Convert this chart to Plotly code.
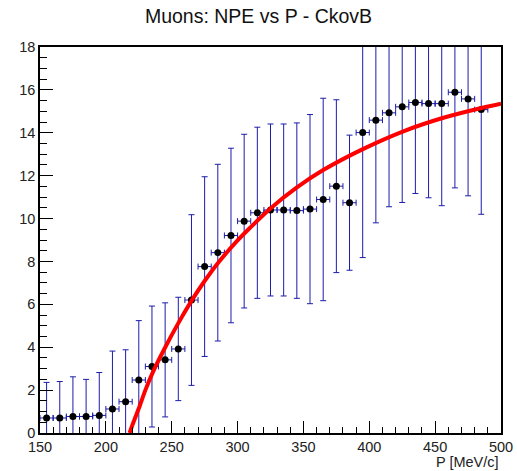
import plotly.graph_objects as go

p = [155, 165, 175, 185, 195, 205, 215, 225, 235, 245, 255, 265, 275, 285, 295,
     305, 315, 325, 335, 345, 355, 365, 375, 385, 395, 405, 415, 425, 435, 445,
     455, 465, 475, 485]
npe = [0.70, 0.70, 0.77, 0.77, 0.82, 1.12, 1.46, 2.47, 3.10, 3.41, 3.92, 6.20,
       7.76, 8.41, 9.21, 9.88, 10.27, 10.40, 10.40, 10.37, 10.44, 10.89, 11.51,
       10.74, 14.01, 14.59, 14.93, 15.21, 15.41, 15.36, 15.36, 15.89, 15.58, 15.08]
err = [1.66, 1.70, 1.85, 1.73, 2.00, 2.70, 2.42, 2.77, 2.82, 2.66, 2.41, 3.98,
       4.19, 4.12, 4.07, 4.05, 3.99, 4.01, 4.01, 4.09, 4.41, 4.72, 4.03,
       3.15, 5.83, 4.79, 4.38, 4.46, 4.24, 4.39, 4.76, 4.46, 4.52, 4.88]
p_err = [5] * len(p)

fit_p = [218.0, 221.0, 225.7, 230.0, 235.8, 244.7, 254.8, 265.0, 275.1, 286.5,
         300.0, 309.3, 324.5, 344.8, 365.0, 395.5, 425.9, 456.3, 486.7, 500.0]
fit_npe = [0.0, 0.51, 1.26, 2.0, 2.85, 3.95, 5.10, 6.16, 7.10, 8.03,
           8.98, 9.56, 10.45, 11.44, 12.26, 13.25, 14.07, 14.70, 15.18, 15.36]

FONT = "Liberation Sans, Arial, sans-serif"
fig = go.Figure()
fig.add_trace(go.Scatter(
    x=p, y=npe, mode="markers",
    marker=dict(color="black", size=7),
    error_y=dict(type="data", array=err, color="#1c1caa", thickness=1, width=3),
    error_x=dict(type="data", array=p_err, color="#1c1caa", thickness=1, width=3),
    showlegend=False, cliponaxis=True,
))
fig.add_trace(go.Scatter(
    x=fit_p, y=fit_npe, mode="lines",
    line=dict(color="#ff0000", width=4, shape="spline", smoothing=0.8),
    showlegend=False,
))

fig.update_layout(
    width=517, height=471,
    margin=dict(l=40, r=16, t=47, b=38, autoexpand=False),
    paper_bgcolor="white", plot_bgcolor="white",
    font=dict(family=FONT, size=14.5, color="#222"),
    title=dict(text="Muons: NPE vs P - CkovB", x=0.5, xanchor="center",
               y=0.966, yanchor="middle", font=dict(family=FONT, size=19.5, color="#111")),
    annotations=[dict(text="P [MeV/c]", xref="paper", yref="paper", x=1.0, y=-0.074,
                      xanchor="right", yanchor="middle", showarrow=False,
                      font=dict(family=FONT, size=14.5, color="#222"))],
)
fig.update_xaxes(range=[150, 500], tick0=150, dtick=50, ticks="inside", ticklen=12,
                 tickcolor="black", showgrid=False, zeroline=False, automargin=False,
                 showline=True, linecolor="black", linewidth=1.5, mirror=True,
                 minor=dict(ticks="inside", dtick=10, ticklen=6, tickcolor="black", showgrid=False),
                 tickfont=dict(size=14.5))
fig.update_yaxes(range=[0, 18], dtick=2, ticks="inside", ticklen=13,
                 tickcolor="black", showgrid=False, zeroline=False, automargin=False,
                 showline=True, linecolor="black", linewidth=1.5, mirror=True,
                 minor=dict(ticks="inside", dtick=0.5, ticklen=7, tickcolor="black", showgrid=False),
                 tickfont=dict(size=14.5))

fig.write_html("out.html")
